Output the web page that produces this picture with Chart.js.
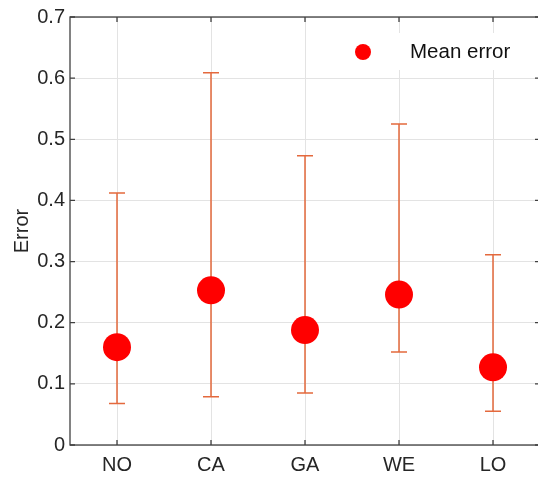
<!DOCTYPE html>
<html>
<head>
<meta charset="utf-8">
<script src="https://cdn.jsdelivr.net/npm/chart.js@4"></script>
<style>
    html, body { margin: 0; padding: 0; background: #fff; overflow: hidden; width: 538px; height: 477px; }
    #wrap { width: 538px; height: 477px; overflow: hidden; position: relative; }
    #errChart { position: absolute; left: 0; top: 0; }
</style>
</head>
<body>
<div id="wrap"><canvas id="errChart" width="545" height="477"></canvas></div>
<script>
// Data
const categories = ['NO', 'CA', 'GA', 'WE', 'LO'];
const meanError = [0.160, 0.253, 0.188, 0.246, 0.127];
const lowerError = [0.068, 0.079, 0.085, 0.152, 0.055];
const upperError = [0.412, 0.609, 0.473, 0.525, 0.311];
const yTickLabels = ['0', '0.1', '0.2', '0.3', '0.4', '0.5', '0.6', '0.7'];

const FONT = 'Arial, "Liberation Sans", Helvetica, sans-serif';
const AXIS_COLOR = '#404040';
const BAR_COLOR = '#e4693d';

// Error bars (whiskers with caps), drawn under the markers
const errorBars = {
    id: 'errorBars',
    beforeDatasetsDraw(chart) {
        const ctx = chart.ctx;
        const x = chart.scales.x;
        const y = chart.scales.y;
        ctx.save();
        ctx.strokeStyle = BAR_COLOR;
        ctx.lineWidth = 1.5;
        categories.forEach(function(c, i) {
            const px = x.getPixelForValue(i);
            const top = y.getPixelForValue(upperError[i]);
            const bot = y.getPixelForValue(lowerError[i]);
            ctx.beginPath();
            ctx.moveTo(px, top);
            ctx.lineTo(px, bot);
            ctx.moveTo(px - 8, top);
            ctx.lineTo(px + 8, top);
            ctx.moveTo(px - 8, bot);
            ctx.lineTo(px + 8, bot);
            ctx.stroke();
        });
        ctx.restore();
    }
};

// Box around the axes with inward ticks, plus the legend
const boxAndLegend = {
    id: 'boxAndLegend',
    afterDraw(chart) {
        const ctx = chart.ctx;
        const a = chart.chartArea;
        const x = chart.scales.x;
        const y = chart.scales.y;
        ctx.save();
        ctx.strokeStyle = AXIS_COLOR;
        ctx.lineWidth = 1.3;
        ctx.strokeRect(a.left, a.top, a.right - a.left, a.bottom - a.top);
        ctx.beginPath();
        categories.forEach(function(c, i) {
            const px = x.getPixelForValue(i);
            ctx.moveTo(px, a.bottom);
            ctx.lineTo(px, a.bottom - 5);
            ctx.moveTo(px, a.top);
            ctx.lineTo(px, a.top + 5);
        });
        yTickLabels.forEach(function(t) {
            const py = y.getPixelForValue(parseFloat(t));
            ctx.moveTo(a.left, py);
            ctx.lineTo(a.left + 5, py);
            ctx.moveTo(a.right, py);
            ctx.lineTo(a.right - 5, py);
        });
        ctx.stroke();

        // legend
        ctx.fillStyle = '#ffffff';
        ctx.fillRect(342, 33, 193, 37);
        ctx.fillStyle = '#ff0000';
        ctx.beginPath();
        ctx.arc(363, 52, 8, 0, Math.PI * 2);
        ctx.fill();
        ctx.fillStyle = '#111111';
        ctx.font = '20.5px ' + FONT;
        ctx.textBaseline = 'middle';
        ctx.textAlign = 'left';
        ctx.fillText('Mean error', 410, 52);
        ctx.restore();
    }
};

new Chart(document.getElementById('errChart'), {
    type: 'line',
    data: {
        labels: categories,
        datasets: [{
            label: 'Mean error',
            data: meanError,
            showLine: false,
            pointRadius: 14,
            pointHoverRadius: 14,
            pointBackgroundColor: '#ff0000',
            pointBorderColor: '#ff0000',
            pointBorderWidth: 0
        }]
    },
    options: {
        responsive: false,
        animation: false,
        layout: { autoPadding: false, padding: { left: 0, top: 16, right: 5, bottom: 0 } },
        plugins: {
            legend: { display: false },
            tooltip: { enabled: false }
        },
        scales: {
            x: {
                type: 'category',
                offset: true,
                grid: { color: '#e3e3e3', lineWidth: 1, drawTicks: false, offset: false },
                border: { display: false },
                ticks: {
                    color: '#262626',
                    font: { family: FONT, size: 20 },
                    padding: 8
                },
                afterFit(scale) { scale.height = 32; }
            },
            y: {
                min: 0,
                max: 0.7,
                grid: { color: '#e3e3e3', lineWidth: 1, drawTicks: false },
                border: { display: false },
                ticks: {
                    stepSize: 0.1,
                    color: '#262626',
                    font: { family: FONT, size: 20 },
                    padding: 5,
                    callback: function(v, i) { return yTickLabels[i]; }
                },
                title: {
                    display: true,
                    text: 'Error',
                    color: '#262626',
                    font: { family: FONT, size: 20 },
                    padding: { top: 10, bottom: 0 }
                },
                afterFit(scale) { scale.width = 70; }
            }
        }
    },
    plugins: [errorBars, boxAndLegend]
});
</script>
</body>
</html>
